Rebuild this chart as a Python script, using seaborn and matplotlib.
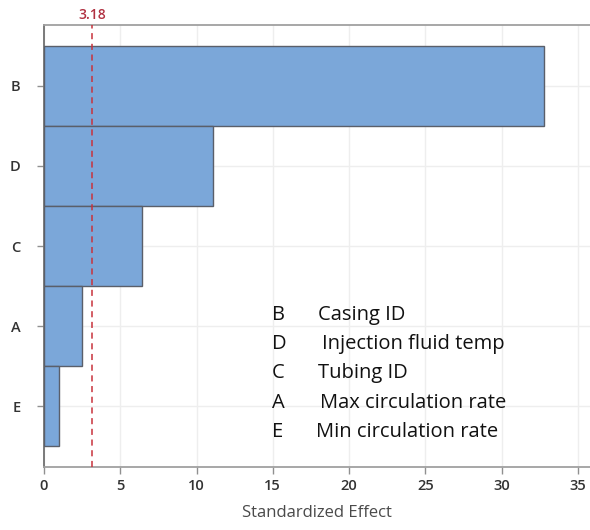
import matplotlib
matplotlib.use("Agg")
import matplotlib.pyplot as plt
import seaborn as sns
import pandas as pd

factors = ["B", "D", "C", "A", "E"]
effects = [32.8, 11.1, 6.45, 2.5, 0.98]
names = ["Casing ID", "Injection fluid temp", "Tubing ID", "Max circulation rate", "Min circulation rate"]
threshold = 3.18
xticks = [0, 5, 10, 15, 20, 25, 30, 35]

sns.set_theme(style="white")
plt.rcParams['font.family'] = ['Open Sans', 'DejaVu Sans']

df = pd.DataFrame({"factor": factors, "effect": effects})

fig = plt.figure(figsize=(5.9, 5.3), dpi=100)
ax = fig.add_axes([44/590, 1-467/530, 1-44/590, (467-25)/530])

sns.barplot(data=df, x="effect", y="factor", order=factors, orient="h",
            color="#7BA7D9", saturation=1, width=1.0, edgecolor="#5a5f6a",
            linewidth=1.0, ax=ax, zorder=3)

ax.set_xlim(0, 35.8)
ax.set_ylim(4.76, -0.76)
ax.set_xticks(xticks)
ax.set_xticklabels([str(t) for t in xticks])
ax.grid(True, color="#eeeeee", linewidth=1, zorder=0)
ax.set_axisbelow(True)

ax.axvline(threshold, color="#c8323c", linestyle=(0, (4, 3)), linewidth=1.1, zorder=4)
ax.text(threshold, 1.006, f"{threshold:.2f}", transform=ax.get_xaxis_transform(),
        ha="center", va="bottom", color="#b03040", fontsize=10, fontweight="semibold")

ax.spines["right"].set_visible(False)
for s in ["left", "bottom", "top"]:
    ax.spines[s].set_color("#a0a0a0")
    ax.spines[s].set_linewidth(1.3)
ax.spines["left"].set_color("#707070")

ax.tick_params(axis="both", which="both", bottom=True, left=True, length=5,
               color="#909090", width=1, labelsize=10.5, labelcolor="#333333", pad=4)
ax.tick_params(axis="y", pad=12)
for lab in ax.get_xticklabels() + ax.get_yticklabels():
    lab.set_fontweight("semibold")

ax.set_xlabel("Standardized Effect", fontsize=12, color="#4a4a4a", labelpad=8)
ax.set_ylabel("")

ys_px = [315, 344, 373, 403, 432]
name_x = [318, 322, 318, 320, 316]
for f, n, yp, nx in zip(factors, names, ys_px, name_x):
    fig.text(272/590, 1-yp/530, f, ha="left", va="center", fontsize=14.5, color="#111111")
    fig.text(nx/590, 1-yp/530, n, ha="left", va="center", fontsize=14.5, color="#111111")

fig.savefig("out.png", dpi=100)
